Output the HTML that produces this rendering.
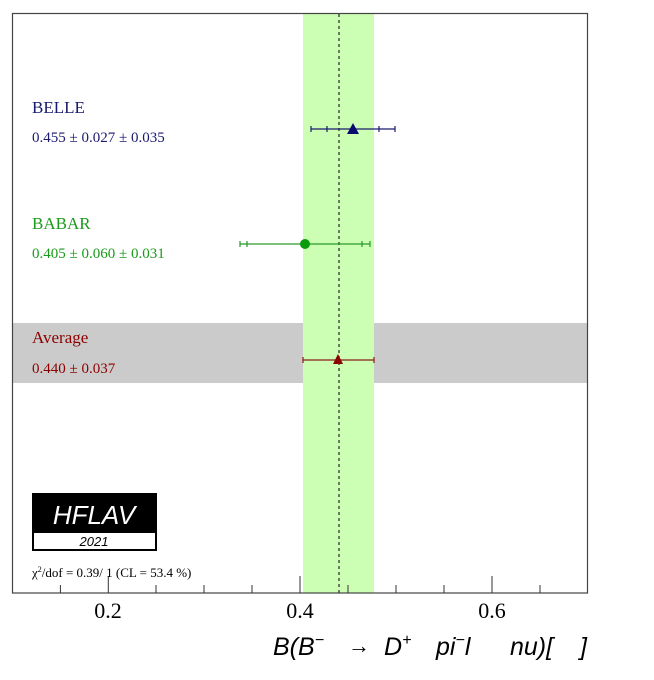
<!DOCTYPE html>
<html><head><style>body{margin:0;background:#fff}</style></head><body>
<svg width="654" height="675" xmlns="http://www.w3.org/2000/svg" font-family="Liberation Serif, serif">
<rect x="0" y="0" width="654" height="675" fill="#fff"/>
<rect x="13" y="323" width="575" height="60" fill="#cbcbcb"/>
<rect x="303" y="14" width="71" height="579" fill="#ccffb3"/>
<line x1="339" y1="14" x2="339" y2="593" stroke="#333" stroke-width="1.3" stroke-dasharray="3,3"/>
<rect x="12.5" y="13.5" width="575" height="579.5" fill="none" stroke="#444" stroke-width="1.2"/>
<g stroke="#333" stroke-width="1">
<line x1="60.4" y1="593" x2="60.4" y2="585"/><line x1="108.3" y1="593" x2="108.3" y2="576"/>
<line x1="156" y1="593" x2="156" y2="585"/><line x1="204" y1="593" x2="204" y2="585"/>
<line x1="252" y1="593" x2="252" y2="585"/><line x1="300" y1="593" x2="300" y2="576"/>
<line x1="348" y1="593" x2="348" y2="585"/><line x1="396" y1="593" x2="396" y2="585"/>
<line x1="444" y1="593" x2="444" y2="585"/><line x1="492" y1="593" x2="492" y2="576"/>
<line x1="540" y1="593" x2="540" y2="585"/>
</g>
<g font-size="22" text-anchor="middle" fill="#000">
<text x="108" y="618">0.2</text><text x="300" y="618">0.4</text><text x="492" y="618">0.6</text>
</g>
<g font-family="Liberation Sans, sans-serif" font-style="italic" font-size="25" fill="#000">
<text x="273" y="655">B(B<tspan font-size="16" dy="-10">−</tspan></text>
<text x="348" y="653" font-style="normal" font-size="22">→</text>
<text x="384" y="655">D<tspan font-size="16" dy="-10">+</tspan></text>
<text x="436" y="655">pi<tspan font-size="16" dy="-10">−</tspan><tspan dy="10">l</tspan></text>
<text x="510" y="655">nu)[</text>
<text x="580" y="655">]</text>
</g>
<text x="32" y="113" font-size="17" fill="#1a1a6e">BELLE</text>
<text x="32" y="142" font-size="15" fill="#1a1a6e">0.455 ± 0.027 ± 0.035</text>
<g stroke="#1a1a6e" stroke-width="1.2">
<line x1="311" y1="129" x2="395" y2="129"/>
<line x1="311" y1="126" x2="311" y2="132"/><line x1="395" y1="126" x2="395" y2="132"/>
<line x1="327" y1="126" x2="327" y2="132"/><line x1="379" y1="126" x2="379" y2="132"/>
</g>
<polygon points="353,123 347,134 359,134" fill="#0a0a6e"/>
<text x="32" y="229" font-size="17" fill="#1a9a1a">BABAR</text>
<text x="32" y="258" font-size="15" fill="#1a9a1a">0.405 ± 0.060 ± 0.031</text>
<g stroke="#2a9a2a" stroke-width="1.2">
<line x1="240" y1="244" x2="370" y2="244"/>
<line x1="240" y1="241" x2="240" y2="247"/><line x1="370" y1="241" x2="370" y2="247"/>
<line x1="247" y1="241" x2="247" y2="247"/><line x1="362" y1="241" x2="362" y2="247"/>
</g>
<circle cx="305" cy="244" r="5" fill="#0a9a0a"/>
<text x="32" y="343" font-size="17" fill="#8b0000">Average</text>
<text x="32" y="373" font-size="15" fill="#8b0000">0.440 ± 0.037</text>
<g stroke="#8b1a1a" stroke-width="1.2">
<line x1="303" y1="360" x2="374" y2="360"/>
<line x1="303" y1="357" x2="303" y2="363"/><line x1="374" y1="357" x2="374" y2="363"/>
</g>
<polygon points="338,354 333,364 343,364" fill="#8b0000"/>
<rect x="32" y="493" width="125" height="58" fill="#000"/>
<rect x="34" y="533" width="121" height="16" fill="#fff"/>
<text x="94" y="524" font-family="Liberation Sans, sans-serif" font-style="italic" font-size="26" fill="#fff" text-anchor="middle">HFLAV</text>
<text x="94" y="546" font-family="Liberation Sans, sans-serif" font-style="italic" font-size="13" fill="#000" text-anchor="middle">2021</text>
<text x="32" y="577" font-size="13" fill="#000">χ<tspan font-size="8" dy="-5">2</tspan><tspan dy="5">/dof = 0.39/ 1 (CL = 53.4 %)</tspan></text>
</svg>
</body></html>
